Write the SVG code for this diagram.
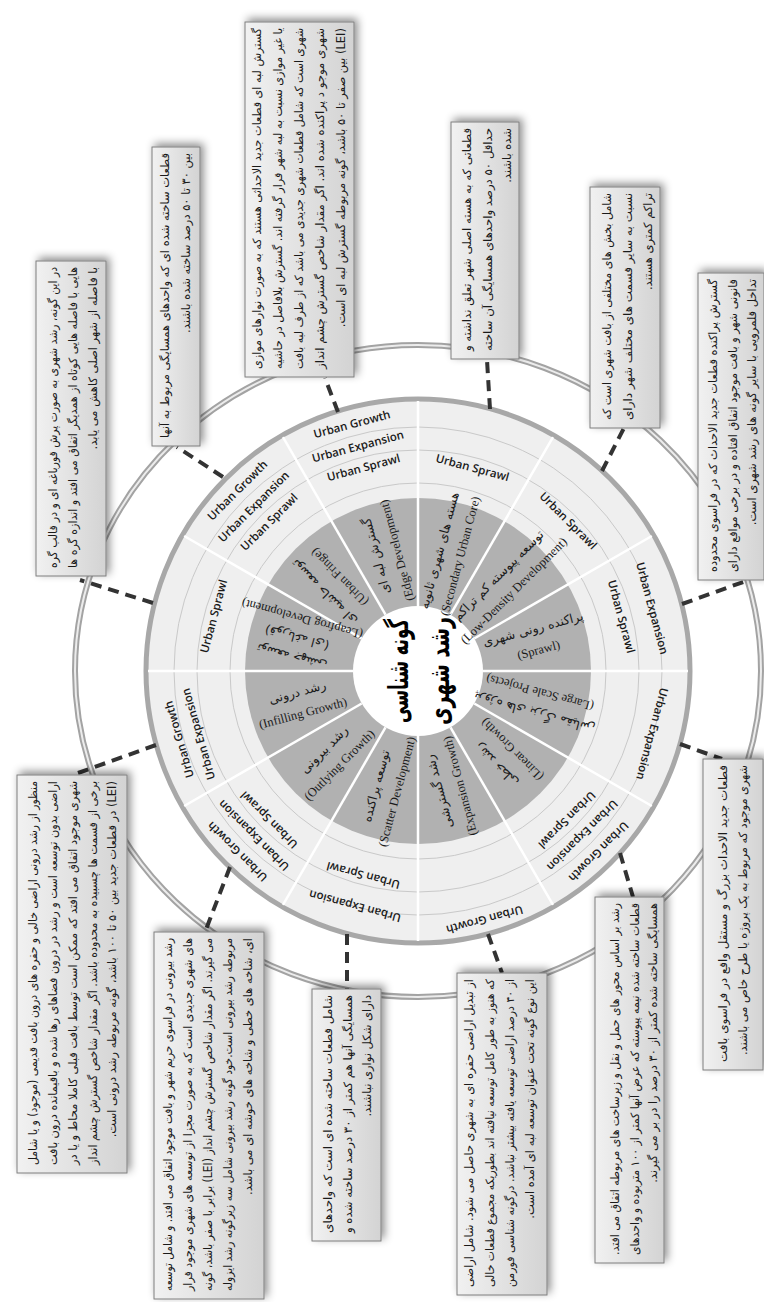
<svg xmlns="http://www.w3.org/2000/svg" width="764" height="1302" viewBox="0 0 764 1302">
<defs>
  <linearGradient id="boxg" x1="0" y1="0" x2="1" y2="0">
    <stop offset="0" stop-color="#f1f1f1"/>
    <stop offset="1" stop-color="#d3d3d3"/>
  </linearGradient>
  <filter id="sh" x="-30%" y="-10%" width="160%" height="120%">
    <feDropShadow dx="3" dy="-3" stdDeviation="4" flood-color="#000" flood-opacity="0.45"/>
  </filter>
</defs>
<style>
  .box{fill:url(#boxg);stroke:#7f7f7f;stroke-width:1;filter:url(#sh)}
  .bt{font-family:'DejaVu Sans',sans-serif;font-size:11.5px;fill:#1a1a1a;direction:rtl;text-anchor:start;dominant-baseline:central}
  .ul{font-family:'Open Sans','Liberation Sans',sans-serif;font-weight:600;font-size:11.5px;fill:#1a1a1a;text-anchor:middle;dominant-baseline:central}
  .sl{font-family:'Liberation Serif','DejaVu Sans',serif;font-size:12.5px;fill:#1a1a1a;text-anchor:middle;dominant-baseline:central}
  .fa{font-family:'DejaVu Sans',sans-serif;font-size:12.5px;direction:rtl}
  .div{stroke:#ffffff;stroke-width:2.5}
  .thin{fill:none;stroke:#c9c9c9;stroke-width:1}
  .conn{stroke:#333333;stroke-width:4;stroke-dasharray:11 7;fill:none}
  .title{font-family:'DejaVu Sans',sans-serif;font-weight:bold;font-size:28px;fill:#000;text-anchor:middle;dominant-baseline:central;direction:rtl}
</style>

<g id="ring">
  <ellipse cx="418" cy="671" rx="343" ry="326" fill="none" stroke="#a3a3a3" stroke-width="6"/>
  <ellipse cx="418" cy="671" rx="343" ry="326" fill="none" stroke="#ececec" stroke-width="2"/>
</g>

<g id="wheel">
  <circle cx="418" cy="671" r="272" fill="#efefef" stroke="#a8a8a8" stroke-width="5"/>
  <circle class="thin" cx="418" cy="671" r="244"/>
  <circle class="thin" cx="418" cy="671" r="221"/>
  <circle class="thin" cx="418" cy="671" r="188"/>
  <circle cx="418" cy="671" r="173" fill="#b1b1b1"/>
  <g id="dividers">
    <line class="div" x1="418" y1="606" x2="418" y2="401"/>
    <line class="div" x1="418" y1="606" x2="418" y2="401" transform="rotate(30 418 671)"/>
    <line class="div" x1="418" y1="606" x2="418" y2="401" transform="rotate(60 418 671)"/>
    <line class="div" x1="418" y1="606" x2="418" y2="401" transform="rotate(90 418 671)"/>
    <line class="div" x1="418" y1="606" x2="418" y2="401" transform="rotate(120 418 671)"/>
    <line class="div" x1="418" y1="606" x2="418" y2="401" transform="rotate(150 418 671)"/>
    <line class="div" x1="418" y1="606" x2="418" y2="401" transform="rotate(180 418 671)"/>
    <line class="div" x1="418" y1="606" x2="418" y2="401" transform="rotate(210 418 671)"/>
    <line class="div" x1="418" y1="606" x2="418" y2="401" transform="rotate(240 418 671)"/>
    <line class="div" x1="418" y1="606" x2="418" y2="401" transform="rotate(270 418 671)"/>
    <line class="div" x1="418" y1="606" x2="418" y2="401" transform="rotate(300 418 671)"/>
    <line class="div" x1="418" y1="606" x2="418" y2="401" transform="rotate(330 418 671)"/>
  </g>
  <circle cx="418" cy="671" r="65" fill="#ffffff"/>
</g>

<g id="band-labels" class="ul">
  <text transform="rotate(345 418 671)" x="418" y="415">Urban Growth</text>
  <text transform="rotate(345 418 671)" x="418" y="438">Urban Expansion</text>
  <text transform="rotate(345 418 671)" x="418" y="460">Urban Sprawl</text>
  <text transform="rotate(15 418 671)" x="418" y="460">Urban Sprawl</text>
  <text transform="rotate(45 418 671)" x="418" y="458">Urban Sprawl</text>
  <text transform="rotate(75 418 671)" x="418" y="428">Urban Expansion</text>
  <text transform="rotate(75 418 671)" x="418" y="460">Urban Sprawl</text>
  <text transform="rotate(105 418 671)" x="418" y="428">Urban Expansion</text>
  <text transform="rotate(135 418 671)" x="418" y="460">Urban Sprawl</text>
  <text transform="rotate(135 418 671)" x="418" y="438">Urban Expansion</text>
  <text transform="rotate(135 418 671)" x="418" y="415">Urban Growth</text>
  <text transform="rotate(165 418 671)" x="418" y="413">Urban Growth</text>
  <text transform="rotate(195 418 671)" x="418" y="459">Urban Sprawl</text>
  <text transform="rotate(195 418 671)" x="418" y="427">Urban Expansion</text>
  <text transform="rotate(225 418 671)" x="418" y="460">Urban Sprawl</text>
  <text transform="rotate(225 418 671)" x="418" y="438">Urban Expansion</text>
  <text transform="rotate(225 418 671)" x="418" y="415">Urban Growth</text>
  <text transform="rotate(254 418 671)" x="418" y="442">Urban Expansion</text>
  <text transform="rotate(254 418 671)" x="418" y="422">Urban Growth</text>
  <text transform="rotate(285 418 671)" x="418" y="459">Urban Sprawl</text>
  <text transform="rotate(315 418 671)" x="418" y="415">Urban Growth</text>
  <text transform="rotate(315 418 671)" x="418" y="438">Urban Expansion</text>
  <text transform="rotate(315 418 671)" x="418" y="460">Urban Sprawl</text>
</g>

<g id="sector-labels">
  <g id="s-edge" transform="translate(386.4,553.2) rotate(-105)">
    <text class="sl fa" y="-11">گسترش لبه ای</text>
    <text class="sl" y="11">(Edge Development)</text>
  </g>
  <g id="s-secondary" transform="translate(449.6,553.2) rotate(-75)">
    <text class="sl fa" y="-11">هسته های شهری ثانویه</text>
    <text class="sl" y="11">(Secondary Urban Core)</text>
  </g>
  <g id="s-lowdensity" transform="translate(506,583) rotate(-45)">
    <text class="sl fa" y="-11">توسعه پیوسته کم تراکم</text>
    <text class="sl" y="11">(Low-Density Development)</text>
  </g>
  <g id="s-sprawl" transform="translate(535.8,639.4) rotate(-15)">
    <text class="sl fa" y="-11">پراکنده رونی شهری</text>
    <text class="sl" y="11">(Sprawl)</text>
  </g>
  <g id="s-large" transform="translate(537,703) rotate(195)">
    <text class="sl fa" y="-11">پروژه های بزرگ مقیاس</text>
    <text class="sl" y="11">(Large Scale Projects)</text>
  </g>
  <g id="s-linear" transform="translate(504.3,757.3) rotate(225)">
    <text class="sl fa" y="-11">رشد خطی</text>
    <text class="sl" y="11">(Linear Growth)</text>
  </g>
  <g id="s-expansion" transform="translate(449.6,788.8) rotate(255)">
    <text class="sl fa" y="-11">رشد گسترشی</text>
    <text class="sl" y="11">(Expansion Growth)</text>
  </g>
  <g id="s-scatter" transform="translate(386.4,788.8) rotate(285)">
    <text class="sl fa" y="-11">توسعه پراکنده</text>
    <text class="sl" y="11">(Scatter Development)</text>
  </g>
  <g id="s-outlying" transform="translate(331.7,757.3) rotate(315)">
    <text class="sl fa" y="-11">رشد بیرونی</text>
    <text class="sl" y="11">(Outlying Growth)</text>
  </g>
  <g id="s-infilling" transform="translate(300.2,702.6) rotate(345)">
    <text class="sl fa" y="-11">رشد درونی</text>
    <text class="sl" y="11">(Infilling Growth)</text>
  </g>
  <g id="s-leapfrog" transform="translate(297,638) rotate(195)">
    <text class="sl fa" y="-20">توسعه جهشی</text>
    <text class="sl fa" y="0">(قورباغه ای)</text>
    <text class="sl" y="20">(Leapfrog Development)</text>
  </g>
  <g id="s-fringe" transform="translate(331.7,584.7) rotate(225)">
    <text class="sl fa" y="-11">توسعه حاشیه ای</text>
    <text class="sl" y="11">(Urban Fringe)</text>
  </g>
</g>

<g id="hub" transform="translate(418,671) rotate(-90)">
  <text class="title" x="0" y="-20" textLength="104" lengthAdjust="spacingAndGlyphs">گونه شناسی</text>
  <text class="title" x="0" y="21" textLength="108" lengthAdjust="spacingAndGlyphs">رشد شهری</text>
</g>

<g id="connectors">
  <line class="conn" x1="153" y1="603" x2="80" y2="580"/>
  <line class="conn" x1="223" y1="477" x2="177" y2="447"/>
  <line class="conn" x1="338" y1="412" x2="325" y2="378"/>
  <line class="conn" x1="490" y1="409" x2="487" y2="360"/>
  <line class="conn" x1="602" y1="471" x2="624" y2="428"/>
  <line class="conn" x1="682" y1="604" x2="746" y2="581"/>
  <line class="conn" x1="680" y1="744" x2="722" y2="759"/>
  <line class="conn" x1="620" y1="853" x2="633" y2="897"/>
  <line class="conn" x1="488" y1="934" x2="502" y2="973"/>
  <line class="conn" x1="347" y1="934" x2="347" y2="989"/>
  <line class="conn" x1="230" y1="867" x2="205" y2="932"/>
  <line class="conn" x1="156" y1="745" x2="78" y2="773"/>
</g>

<g id="box-A">
  <rect class="box" x="36" y="261" width="70" height="315"/>
  <g transform="translate(36,576) rotate(-90)">
    <text class="bt" x="309" y="17" textLength="301" lengthAdjust="spacingAndGlyphs">در این گونه، رشد شهری به صورت پرش قورباغه ای و در قالب گره</text>
    <text class="bt" x="309" y="37" textLength="301" lengthAdjust="spacingAndGlyphs">هایی با فاصله هایی کوتاه از همدیگر اتفاق می افتد و اندازه گره ها</text>
    <text class="bt" x="309" y="57">با فاصله از شهر اصلی کاهش می یابد.</text>
  </g>
</g>

<g id="box-B">
  <rect class="box" x="152" y="147" width="48" height="299"/>
  <g transform="translate(152,446) rotate(-90)">
    <text class="bt" x="293" y="13" textLength="285" lengthAdjust="spacingAndGlyphs">قطعات ساخته شده ای که واحدهای همسایگی مربوط به آنها</text>
    <text class="bt" x="293" y="34">بین ۳۰ تا ۵۰ درصد ساخته شده باشند.</text>
  </g>
</g>

<g id="box-C">
  <rect class="box" x="245" y="22" width="109" height="355"/>
  <g transform="translate(245,377) rotate(-90)">
    <text class="bt" x="349" y="12" textLength="341" lengthAdjust="spacingAndGlyphs">گسترش لبه ای قطعات جدید الاحداثی هستند که به صورت نوارهای موازی</text>
    <text class="bt" x="349" y="33" textLength="341" lengthAdjust="spacingAndGlyphs">یا غیر موازی نسبت به لبه شهر قرار گرفته اند. گسترش بلافاصل در حاشیه</text>
    <text class="bt" x="349" y="54" textLength="341" lengthAdjust="spacingAndGlyphs">شهری است که شامل قطعات شهری جدیدی می باشد که از طرف لبه بافت</text>
    <text class="bt" x="349" y="75" textLength="341" lengthAdjust="spacingAndGlyphs">شهری موجو د پراکنده شده اند. اگر مقدار شاخص گسترش چشم انداز</text>
    <text class="bt" x="349" y="96">(LEI) بین صفر تا ۵۰ باشد، گونه مربوطه گسترش لبه ای است.</text>
  </g>
</g>

<g id="box-D">
  <rect class="box" x="451" y="122" width="68" height="237"/>
  <g transform="translate(451,359) rotate(-90)">
    <text class="bt" x="231" y="16" textLength="223" lengthAdjust="spacingAndGlyphs">قطعاتی که به هسته اصلی شهر تعلق نداشته و</text>
    <text class="bt" x="231" y="37" textLength="223" lengthAdjust="spacingAndGlyphs">حداقل ۵۰ درصد واحدهای همسایگی آن ساخته</text>
    <text class="bt" x="231" y="56">شده باشند.</text>
  </g>
</g>

<g id="box-E">
  <rect class="box" x="590" y="187" width="70" height="241"/>
  <g transform="translate(590,428) rotate(-90)">
    <text class="bt" x="235" y="17" textLength="227" lengthAdjust="spacingAndGlyphs">شامل بخش های مختلفی از بافت شهری است که</text>
    <text class="bt" x="235" y="38" textLength="227" lengthAdjust="spacingAndGlyphs">نسبت به سایر قسمت های مختلف شهر دارای</text>
    <text class="bt" x="235" y="58">تراکم کمتری هستند.</text>
  </g>
</g>

<g id="box-F">
  <rect class="box" x="698" y="273" width="66" height="307"/>
  <g transform="translate(698,580) rotate(-90)">
    <text class="bt" x="301" y="15" textLength="293" lengthAdjust="spacingAndGlyphs">گسترش پراکنده قطعات جدید الاحداث که در فراسوی محدوده</text>
    <text class="bt" x="301" y="35" textLength="293" lengthAdjust="spacingAndGlyphs">قانونی شهر و بافت موجود اتفاق افتاده و در برخی مواقع دارای</text>
    <text class="bt" x="301" y="54">تداخل قلمرویی با سایر گونه های رشد شهری است.</text>
  </g>
</g>

<g id="box-G">
  <rect class="box" x="703" y="759" width="60" height="311"/>
  <g transform="translate(703,1070) rotate(-90)">
    <text class="bt" x="305" y="20" textLength="297" lengthAdjust="spacingAndGlyphs">قطعات جدید الاحداث بزرگ و مستقل واقع در فراسوی بافت</text>
    <text class="bt" x="305" y="40" textLength="290" lengthAdjust="spacingAndGlyphs">شهری موجود که مربوط به یک پروژه یا طرح خاص می باشند.</text>
  </g>
</g>

<g id="box-H">
  <rect class="box" x="595" y="897" width="69" height="366"/>
  <g transform="translate(595,1263) rotate(-90)">
    <text class="bt" x="360" y="20" textLength="352" lengthAdjust="spacingAndGlyphs">رشد بر اساس محور های حمل و نقل و زیرساخت های مربوطه اتفاق می افتد.</text>
    <text class="bt" x="360" y="40" textLength="352" lengthAdjust="spacingAndGlyphs">قطعات ساخته شده نیمه پیوسته که عرض آنها کمتر از ۱۰۰ متربوده و واحدهای</text>
    <text class="bt" x="360" y="58">همسایگی ساخته شده کمتر از ۳۰ درصد را در بر می گیرند.</text>
  </g>
</g>

<g id="box-I">
  <rect class="box" x="457" y="973" width="90" height="322"/>
  <g transform="translate(457,1295) rotate(-90)">
    <text class="bt" x="316" y="12" textLength="308" lengthAdjust="spacingAndGlyphs">از تبدیل اراضی حفره ای به شهری حاصل می شود. شامل اراضی</text>
    <text class="bt" x="316" y="33" textLength="308" lengthAdjust="spacingAndGlyphs">که هنوز به طور کامل توسعه نیافته اند بطوریکه مجموع قطعات خالی</text>
    <text class="bt" x="316" y="53" textLength="308" lengthAdjust="spacingAndGlyphs">از ۴۰ درصد اراضی توسعه یافته بیشتر نباشد. درگونه شناسی فورمن</text>
    <text class="bt" x="316" y="73">این نوع گونه تحت عنوان توسعه لبه ای آمده است.</text>
  </g>
</g>

<g id="box-J">
  <rect class="box" x="312" y="989" width="69" height="252"/>
  <g transform="translate(312,1241) rotate(-90)">
    <text class="bt" x="246" y="16" textLength="238" lengthAdjust="spacingAndGlyphs">شامل قطعات ساخته شده ای  است که واحدهای</text>
    <text class="bt" x="246" y="36" textLength="238" lengthAdjust="spacingAndGlyphs">همسایگی آنها هم کمتر از ۳۰ درصد ساخته شده و</text>
    <text class="bt" x="246" y="55">دارای شکل نواری نباشند.</text>
  </g>
</g>

<g id="box-K">
  <rect class="box" x="154" y="932" width="110" height="367"/>
  <g transform="translate(154,1299) rotate(-90)">
    <text class="bt" x="361" y="14" textLength="353" lengthAdjust="spacingAndGlyphs">رشد بیرونی در فراسوی حریم شهر و بافت موجود اتفاق می افتد. و شامل توسعه</text>
    <text class="bt" x="361" y="34" textLength="353" lengthAdjust="spacingAndGlyphs">های شهری جدیدی است که به صورت مجزا از توسعه های شهری موجود قرار</text>
    <text class="bt" x="361" y="54" textLength="353" lengthAdjust="spacingAndGlyphs">می گیرند. اگر مقدار شاخص گسترش چشم انداز (LEI) برابر با صفر باشد، گونه</text>
    <text class="bt" x="361" y="74" textLength="353" lengthAdjust="spacingAndGlyphs">مربوطه رشد بیرونی است.خود گونه رشد بیرونی شامل سه زیرگونه رشد ایزوله</text>
    <text class="bt" x="361" y="94">ای، شاخه های خطی و شاخه های خوشه ای می باشد.</text>
  </g>
</g>

<g id="box-L">
  <rect class="box" x="17" y="775" width="110" height="398"/>
  <g transform="translate(17,1173) rotate(-90)">
    <text class="bt" x="392" y="16" textLength="384" lengthAdjust="spacingAndGlyphs">منظور از رشد درونی اراضی خالی و حفره های درون بافت قدیمی (موجود) و یا شامل</text>
    <text class="bt" x="392" y="36" textLength="384" lengthAdjust="spacingAndGlyphs">اراضی بدون توسعه است و رشد در درون فضاهای رها شده و باقیمانده درون بافت</text>
    <text class="bt" x="392" y="56" textLength="384" lengthAdjust="spacingAndGlyphs">شهری موجود اتفاق می افتد که ممکن است توسط بافت قبلی کاملا محاط و یا در</text>
    <text class="bt" x="392" y="76" textLength="384" lengthAdjust="spacingAndGlyphs">برخی از قسمت ها چسبیده به محدوده باشد. اگر مقدار شاخص گسترش چشم انداز</text>
    <text class="bt" x="392" y="95">(LEI) در قطعات جدید بین ۵۰ تا ۱۰۰ باشد، گونه مربوطه رشد درونی است.</text>
  </g>
</g>
</svg>
